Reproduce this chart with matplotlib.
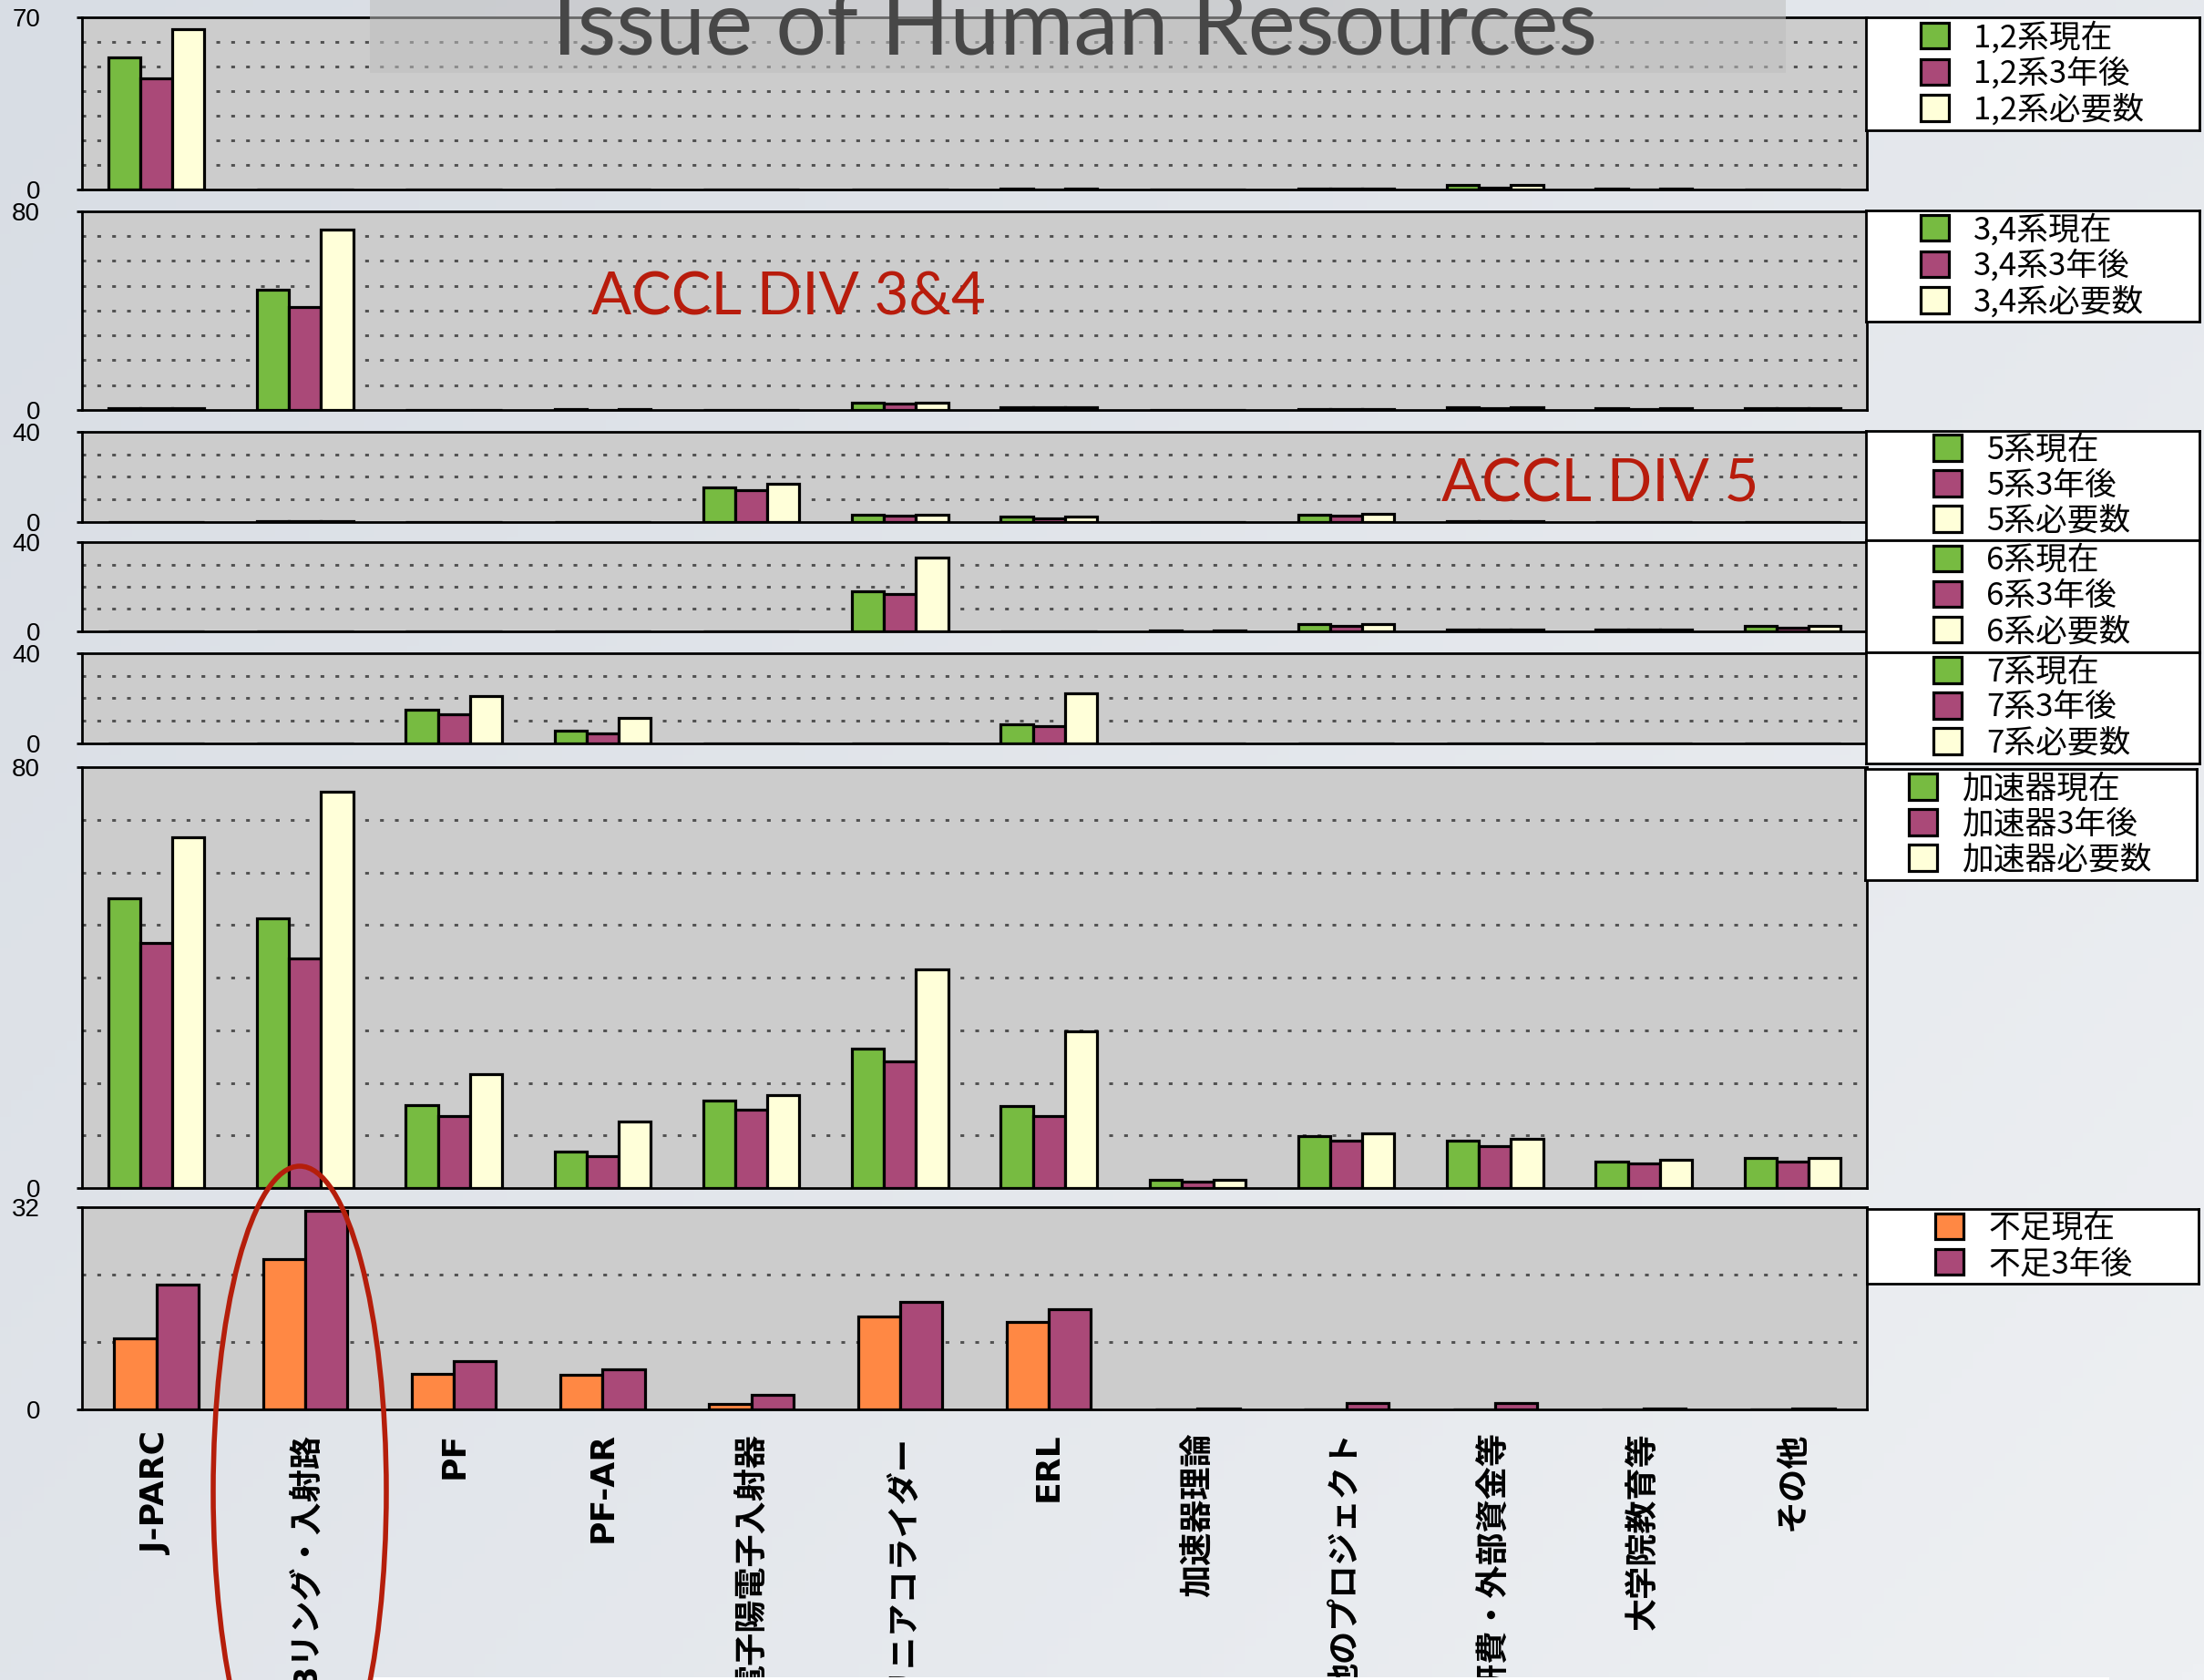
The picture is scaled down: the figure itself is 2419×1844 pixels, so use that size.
import numpy as np
import matplotlib
matplotlib.use("Agg")
import matplotlib.pyplot as plt
from matplotlib.patches import Rectangle, Ellipse
from matplotlib.colors import LinearSegmentedColormap

# Human resources per accelerator division (number of staff)

W, H = 2419, 1844
DPI = 100

categories = ['J-PARC', 'KEKBリング・入射路', 'PF', 'PF-AR', '電子陽電子入射器',
              'リニアコライダー', 'ERL', '加速器理論', '他のプロジェクト',
              '科研費・外部資金等', '大学院教育等', 'その他']

div12_now = [53.6, 0, 0, 0, 0, 0, 0.3, 0, 0.5, 1.8, 0.3, 0]
div12_3yr = [45.3, 0, 0, 0, 0, 0, 0, 0, 0.2, 0.8, 0, 0]
div12_need = [65.0, 0, 0, 0, 0, 0, 0.3, 0, 0.5, 1.8, 0.3, 0]

div34_now = [0.6, 48.4, 0, 0.4, 0.1, 3.0, 1.2, 0, 0.3, 1.2, 0.6, 0.6]
div34_3yr = [0.6, 41.3, 0, 0.1, 0, 2.4, 1.2, 0, 0.2, 0.8, 0.3, 0.6]
div34_need = [0.6, 72.7, 0, 0.4, 0.1, 3.0, 1.2, 0, 0.3, 1.2, 0.6, 0.6]

div5_now = [0, 0.3, 0, 0, 15.5, 3.4, 2.3, 0, 3.2, 0.5, 0, 0.2]
div5_3yr = [0, 0.3, 0, 0, 14.0, 3.0, 1.7, 0, 2.8, 0.5, 0, 0.2]
div5_need = [0, 0.3, 0, 0, 16.8, 3.4, 2.3, 0, 3.7, 0.5, 0, 0.2]

div6_now = [0, 0, 0, 0, 0, 18.0, 0, 0.4, 3.2, 1.0, 1.0, 2.3]
div6_3yr = [0, 0, 0, 0, 0, 16.8, 0, 0.2, 2.6, 0.8, 0.8, 1.8]
div6_need = [0, 0, 0, 0, 0, 33.0, 0, 0.4, 3.2, 1.0, 1.0, 2.3]

div7_now = [0, 0, 14.9, 5.7, 0, 0, 8.5, 0, 0, 0, 0, 0]
div7_3yr = [0, 0, 13.0, 4.3, 0, 0, 7.5, 0, 0, 0, 0, 0]
div7_need = [0, 0, 21.1, 11.4, 0, 0, 22.2, 0, 0, 0, 0, 0]

acc_now = [55.1, 51.2, 15.7, 6.9, 16.6, 26.5, 15.5, 1.5, 9.9, 9.0, 5.1, 5.8]
acc_3yr = [46.5, 43.6, 13.6, 6.0, 14.9, 24.1, 13.6, 1.2, 9.0, 7.9, 4.6, 5.1]
acc_need = [66.7, 75.4, 21.7, 12.6, 17.6, 41.5, 29.7, 1.5, 10.4, 9.3, 5.3, 5.8]

short_now = [11.2, 23.8, 5.6, 5.5, 0.8, 14.7, 13.9, 0, 0, 0, 0, 0]
short_3yr = [19.8, 31.4, 7.6, 6.3, 2.3, 17.0, 15.8, 0.1, 1.0, 1.0, 0.2, 0.2]

GREEN = '#77BB41'
PURPLE = '#AA4978'
CREAM = '#FFFFD9'
ORANGE = '#FF8844'
PANEL = '#CCCCCC'
RED = '#B81C0C'

CJK = ['Noto Sans CJK JP', 'DejaVu Sans']
XLAB = ['DejaVu Sans', 'Noto Sans CJK JP']


def fx(px):
    return px / W


def fy(py):
    return 1 - py / H


def rect_px(x0, y0, x1, y1):
    # pixel box (origin top-left) -> figure fraction [l, b, w, h]
    return [fx(x0), fy(y1), (x1 - x0) / W, (y1 - y0) / H]


fig = plt.figure(figsize=(W / DPI, H / DPI), dpi=DPI)

# background gradient
bg = fig.add_axes([0, 0, 1, 1], zorder=-10)
gx, gy = np.meshgrid(np.linspace(0, 1, 200), np.linspace(0, 1, 200))
cmap_bg = LinearSegmentedColormap.from_list('bg', ['#D8DDE4', '#EEF0F3'])
bg.imshow(0.6 * gx + 0.4 * gy, cmap=cmap_bg, aspect='auto', extent=[0, 1, 0, 1])
bg.axis('off')


def draw_panel(ypx, series, colors, labels, ymax, grid, width, leg_px, leg_x, bottom=False):
    ax = fig.add_axes(rect_px(90, ypx[0], 2049, ypx[1]))
    ax.set_facecolor(PANEL)
    ax.set_axisbelow(True)
    x = np.arange(len(categories))
    n = len(series)
    for i, (vals, c, lab) in enumerate(zip(series, colors, labels)):
        off = (i - (n - 1) / 2) * width
        ax.bar(x + off, vals, width, color=c, edgecolor='black', linewidth=2.3,
               label=lab, zorder=3)
    ax.set_xlim(-0.5, len(categories) - 0.5)
    ax.set_ylim(0, ymax)
    ax.set_yticks([0, ymax])
    ax.set_yticklabels(['0', str(ymax)], family='Liberation Sans', fontsize=20)
    ax.set_yticks(grid, minor=True)
    ax.grid(which='minor', axis='y', linestyle=(0, (1.4, 4.2)), color='#505050', linewidth=2.1)
    ax.tick_params(axis='y', which='major', length=4, width=2, pad=29)
    ax.tick_params(axis='y', which='minor', length=0)
    for s in ax.spines.values():
        s.set_linewidth(2)
        s.set_color('black')
    if bottom:
        ax.set_xticks(x)
        ax.set_xticklabels(categories, rotation=90, fontsize=26, family=XLAB, fontweight='bold')
        ax.tick_params(axis='x', length=0, pad=18)
    else:
        ax.set_xticks([])

    lax = fig.add_axes(rect_px(*leg_px))
    lax.set_facecolor('white')
    lax.set_xticks([])
    lax.set_yticks([])
    for s in lax.spines.values():
        s.set_linewidth(2)
        s.set_color('black')
    h, l = ax.get_legend_handles_labels()
    lax.legend(h, l, loc='center left', bbox_to_anchor=(leg_x, 0.5), frameon=False,
               prop={'family': CJK, 'size': 25}, handlelength=0.9, handleheight=0.88,
               handletextpad=0.78, labelspacing=0.12, borderpad=0, borderaxespad=0)
    return ax


three = [GREEN, PURPLE, CREAM]

draw_panel((19, 208), [div12_now, div12_3yr, div12_need], three,
           ['1,2系現在', '1,2系3年後', '1,2系必要数'], 70, np.arange(10, 70, 10), 0.215,
           (2048, 19, 2414, 143), 0.164)
draw_panel((232, 450), [div34_now, div34_3yr, div34_need], three,
           ['3,4系現在', '3,4系3年後', '3,4系必要数'], 80, np.arange(10, 80, 10), 0.215,
           (2048, 231, 2414, 353), 0.164)
draw_panel((474, 573), [div5_now, div5_3yr, div5_need], three,
           ['5系現在', '5系3年後', '5系必要数'], 40, np.arange(10, 40, 10), 0.215,
           (2048, 473, 2414, 593), 0.202)
draw_panel((595, 693), [div6_now, div6_3yr, div6_need], three,
           ['6系現在', '6系3年後', '6系必要数'], 40, np.arange(10, 40, 10), 0.215,
           (2048, 593, 2414, 716), 0.202)
draw_panel((717, 816), [div7_now, div7_3yr, div7_need], three,
           ['7系現在', '7系3年後', '7系必要数'], 40, np.arange(10, 40, 10), 0.215,
           (2048, 716, 2414, 838), 0.202)
draw_panel((842, 1304), [acc_now, acc_3yr, acc_need], three,
           ['加速器現在', '加速器3年後', '加速器必要数'], 80, np.arange(10, 80, 10), 0.215,
           (2047, 844, 2411, 966), 0.132)
draw_panel((1325, 1547), [short_now, short_3yr], [ORANGE, PURPLE],
           ['不足現在', '不足3年後'], 32, [32 / 3, 64 / 3], 0.284,
           (2049, 1327, 2413, 1409), 0.206, bottom=True)

# slide title with translucent band
fig.add_artist(Rectangle((fx(406), fy(80)), (1960 - 406) / W, 80 / H,
                         transform=fig.transFigure, facecolor='#BEBEBE', alpha=0.55,
                         edgecolor='none', zorder=5))
fig.text(fx(1180), fy(60), 'Issue of Human Resources', ha='center', va='baseline',
         fontsize=71, family='Lato', color='#474747', zorder=6)

fig.text(fx(865), fy(345), 'ACCL DIV 3&4', ha='center', va='baseline',
         fontsize=47, family='Lato', color=RED, zorder=6)
fig.text(fx(1756), fy(550), 'ACCL DIV 5', ha='center', va='baseline',
         fontsize=47, family='Lato', color=RED, zorder=6)

# red ellipse around KEKB
fig.add_artist(Ellipse((fx(329), fy(1637)), 190 / W, 714 / H, transform=fig.transFigure,
                       fill=False, edgecolor='#B51E0B', linewidth=4, zorder=7))

fig.add_artist(Rectangle((fx(404), 0), (2315 - 404) / W, 3 / H, transform=fig.transFigure,
                         facecolor='white', edgecolor='none', zorder=6))

fig.savefig('out.png', dpi=DPI)
